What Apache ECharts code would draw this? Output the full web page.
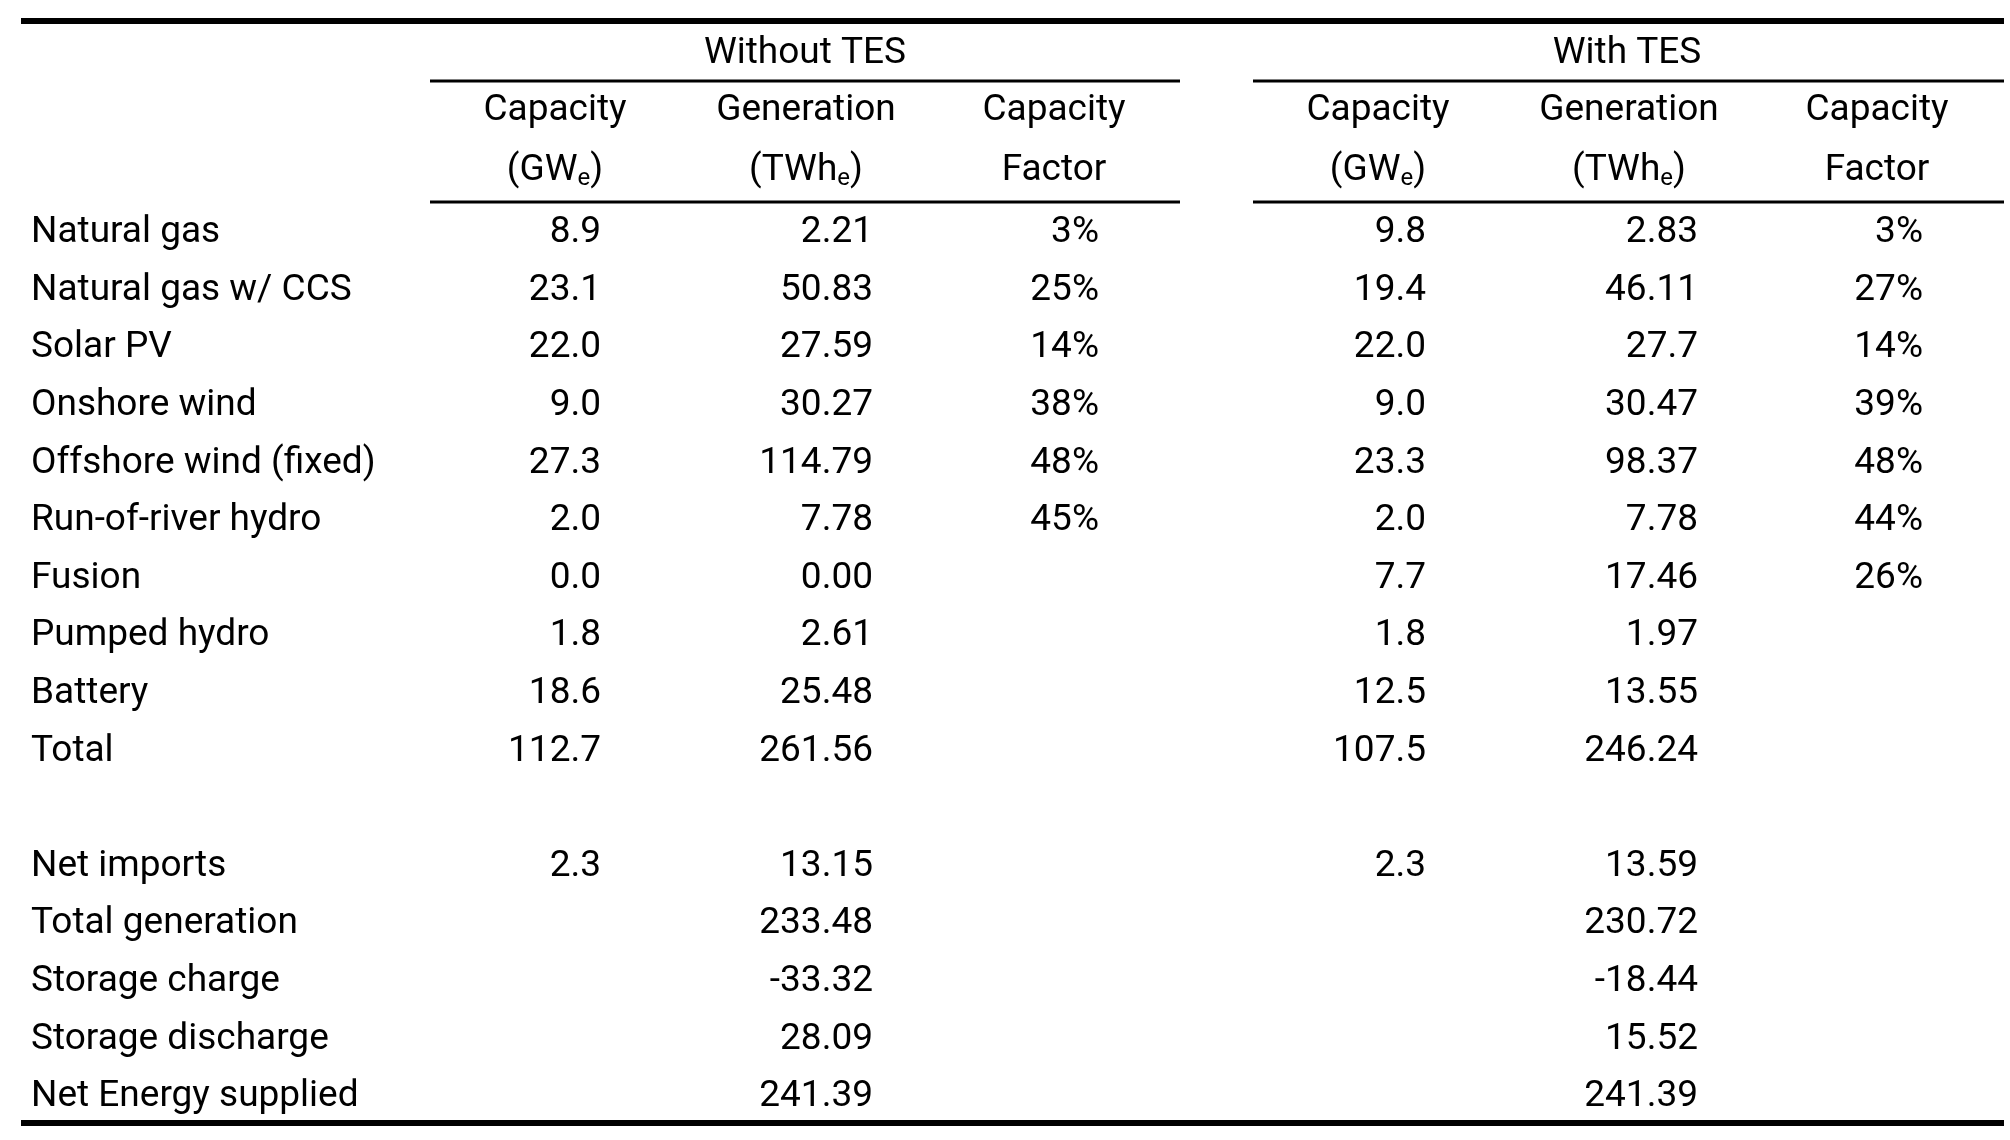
<!DOCTYPE html>
<html>
<head>
<meta charset="utf-8">
<script src="https://cdn.jsdelivr.net/npm/echarts@6/dist/echarts.min.js"></script>
<style>
  html, body { margin: 0; padding: 0; background: #fff; }
  #chart { width: 2010px; height: 1140px; }
</style>
</head>
<body>
<div id="chart"></div>
<script>
var rowLabels = ['Natural gas', 'Natural gas w/ CCS', 'Solar PV', 'Onshore wind', 'Offshore wind (fixed)',
  'Run-of-river hydro', 'Fusion', 'Pumped hydro', 'Battery', 'Total', '',
  'Net imports', 'Total generation', 'Storage charge', 'Storage discharge', 'Net Energy supplied'];

var noTesCapacity = ['8.9', '23.1', '22.0', '9.0', '27.3', '2.0', '0.0', '1.8', '18.6', '112.7', '', '2.3', '', '', '', ''];
var noTesGeneration = ['2.21', '50.83', '27.59', '30.27', '114.79', '7.78', '0.00', '2.61', '25.48', '261.56', '',
  '13.15', '233.48', '-33.32', '28.09', '241.39'];
var noTesFactor = ['3%', '25%', '14%', '38%', '48%', '45%', '', '', '', '', '', '', '', '', '', ''];

var tesCapacity = ['9.8', '19.4', '22.0', '9.0', '23.3', '2.0', '7.7', '1.8', '12.5', '107.5', '', '2.3', '', '', '', ''];
var tesGeneration = ['2.83', '46.11', '27.7', '30.47', '98.37', '7.78', '17.46', '1.97', '13.55', '246.24', '',
  '13.59', '230.72', '-18.44', '15.52', '241.39'];
var tesFactor = ['3%', '27%', '14%', '39%', '48%', '44%', '26%', '', '', '', '', '', '', '', '', ''];

var groupTitles = ['Without TES', 'With TES'];
var headTop = ['Capacity', 'Generation', 'Capacity'];
var headBottom = ['(GW{s|e})', '(TWh{s|e})', 'Factor'];

var FONT = 'Roboto, "Liberation Sans", sans-serif';
var FS = 37;
var chart = echarts.init(document.getElementById('chart'));
var els = [];

function txt(x, y, s, align) {
  els.push({
    type: 'text', x: x, y: y,
    style: {
      text: s, fill: '#000', font: FS + 'px ' + FONT,
      align: align, verticalAlign: 'middle',
      rich: { s: { fontSize: 24, fontFamily: FONT, fill: '#000', padding: [16, 0, 0, 0] } }
    }
  });
}
function rule(x1, x2, y, w) {
  els.push({ type: 'line', shape: { x1: x1, y1: y, x2: x2, y2: y }, style: { stroke: '#000', lineWidth: w } });
}

rule(21, 2004, 21, 6);
rule(430, 1180, 81, 3);
rule(1253, 2004, 81, 3);
rule(430, 1180, 202, 3);
rule(1253, 2004, 202, 3);
rule(21, 2004, 1123, 6);

txt(805, 54, groupTitles[0], 'center');
txt(1627, 54, groupTitles[1], 'center');
var centers = [[555, 806, 1054], [1378, 1629, 1877]];
centers.forEach(function (cs) {
  cs.forEach(function (cx, i) {
    txt(cx, 111, headTop[i], 'center');
    txt(cx, 171, headBottom[i], 'center');
  });
});

var cols = [
  [noTesCapacity, 601], [noTesGeneration, 873], [noTesFactor, 1099],
  [tesCapacity, 1426], [tesGeneration, 1698], [tesFactor, 1923]
];
rowLabels.forEach(function (lab, r) {
  var y = 233 + r * 57.6;
  txt(31, y, lab, 'left');
  cols.forEach(function (c) {
    if (c[0][r]) txt(c[1], y, c[0][r], 'right');
  });
});

chart.setOption({ backgroundColor: '#fff', graphic: { elements: els } });
</script>
</body>
</html>
